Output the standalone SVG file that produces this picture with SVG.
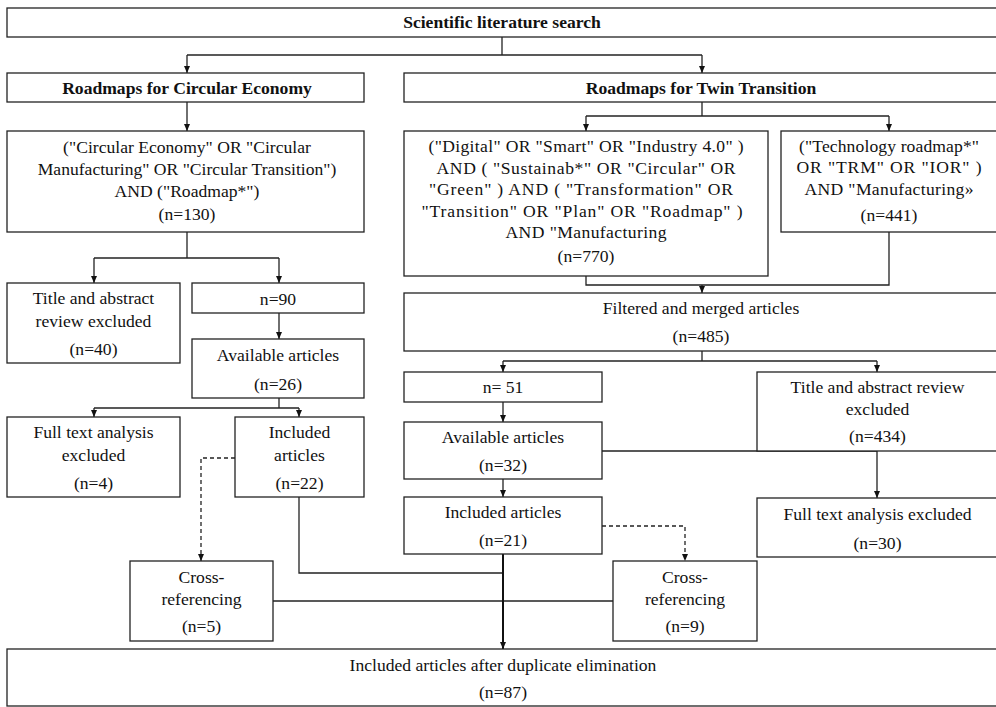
<svg xmlns="http://www.w3.org/2000/svg" width="996" height="707" viewBox="0 0 996 707">
<defs>
<style>
.b{fill:#fff;stroke:#222;stroke-width:1.3}
.t{font-family:"Liberation Serif","Times New Roman",serif;font-size:17.6px;fill:#111;text-anchor:middle}
.bd{font-weight:bold}
.c path{fill:none;stroke:#222;stroke-width:1.3}
.c path.a{marker-end:url(#ah)}
.c path.d{stroke-dasharray:4,3}
.c path.k{stroke-width:2;stroke:#111}
</style>
<marker id="ah" markerUnits="userSpaceOnUse" markerWidth="8" markerHeight="8" refX="7" refY="4" orient="auto">
<path d="M0,1 L7,4 L0,7 z" fill="#111"/>
</marker>
</defs>
<rect width="996" height="707" fill="#fff"/>

<g id="connectors" class="c">
<path d="M502,37 V55"/>
<path d="M187,55 H702"/>
<path class="a" d="M187,55 V73"/>
<path class="a" d="M702,55 V73"/>
<path class="a" d="M187,102 V131"/>
<path d="M702,102 V116"/>
<path d="M586,116 H889"/>
<path class="a" d="M586,116 V131"/>
<path class="a" d="M889,116 V131"/>
<path d="M586,276 V285 H889 V232"/>
<path class="a" d="M702,285 V293"/>
<path d="M187,232 V258"/>
<path d="M94,258 H279"/>
<path class="a" d="M94,258 V283"/>
<path class="a" d="M279,258 V283"/>
<path class="a" d="M279,313 V339"/>
<path d="M279,398 V408"/>
<path d="M94,408 H299"/>
<path class="a" d="M94,408 V417"/>
<path class="a" d="M299,408 V417"/>
<path class="a d" d="M235,458 H201 V561"/>
<path d="M299,497 V573 H503"/>
<path d="M273,601 H503"/>
<path d="M702,351 V361"/>
<path d="M503,361 H877"/>
<path class="a" d="M503,361 V372"/>
<path class="a" d="M877,361 V372"/>
<path class="a" d="M503,402 V422"/>
<path class="a" d="M503,479 V497"/>
<path class="a" d="M602,451 H877 V498"/>
<path class="a d" d="M602,526 H685 V561"/>
<path d="M757,601 H503"/>
<path class="a k" d="M503,554 V649"/>
</g>

<g id="search">
<rect class="b" x="7" y="8" width="991" height="29"/>
<text class="t bd" x="502" y="28">Scientific literature search</text>
</g>

<g id="ce-head">
<rect class="b" x="7" y="73" width="357" height="29"/>
<text class="t bd" x="187" y="94">Roadmaps for Circular Economy</text>
</g>

<g id="tt-head">
<rect class="b" x="404" y="73" width="594" height="29"/>
<text class="t bd" x="701" y="94">Roadmaps for Twin Transition</text>
</g>

<g id="ce-query">
<rect class="b" x="7" y="131" width="357" height="101"/>
<text class="t" x="187" y="153">("Circular Economy" OR "Circular</text>
<text class="t" x="187" y="175">Manufacturing" OR "Circular Transition")</text>
<text class="t" x="187" y="197">AND ("Roadmap*")</text>
<text class="t" x="187" y="220">(n=130)</text>
</g>

<g id="tt-query1">
<rect class="b" x="404" y="131" width="364" height="145"/>
<text class="t" x="586" y="152" textLength="315" lengthAdjust="spacing">("Digital" OR "Smart" OR "Industry 4.0" )</text>
<text class="t" x="586" y="174" textLength="299" lengthAdjust="spacing">AND ( "Sustainab*" OR "Circular" OR</text>
<text class="t" x="581" y="195" textLength="304" lengthAdjust="spacing">"Green" ) AND ( "Transformation" OR</text>
<text class="t" x="582" y="217" textLength="321" lengthAdjust="spacing">"Transition" OR "Plan" OR "Roadmap" )</text>
<text class="t" x="586" y="238" textLength="161" lengthAdjust="spacing">AND "Manufacturing</text>
<text class="t" x="586" y="262">(n=770)</text>
</g>

<g id="tt-query2">
<rect class="b" x="781" y="131" width="217" height="101"/>
<text class="t" x="889" y="152" textLength="180" lengthAdjust="spacing">("Technology roadmap*"</text>
<text class="t" x="889" y="173" textLength="185" lengthAdjust="spacing">OR "TRM" OR "IOR" )</text>
<text class="t" x="889" y="195" textLength="169" lengthAdjust="spacing">AND "Manufacturing»</text>
<text class="t" x="889" y="221">(n=441)</text>
</g>

<g id="ce-excl1">
<rect class="b" x="7" y="283" width="173" height="80"/>
<text class="t" x="93.5" y="304">Title and abstract</text>
<text class="t" x="93.5" y="327">review excluded</text>
<text class="t" x="93.5" y="355">(n=40)</text>
</g>

<g id="ce-n90">
<rect class="b" x="192" y="283" width="172" height="30"/>
<text class="t" x="278" y="305">n=90</text>
</g>

<g id="ce-avail">
<rect class="b" x="192" y="339" width="172" height="59"/>
<text class="t" x="278" y="361">Available articles</text>
<text class="t" x="278" y="390">(n=26)</text>
</g>

<g id="ce-excl2">
<rect class="b" x="7" y="417" width="173" height="80"/>
<text class="t" x="93.5" y="438">Full text analysis</text>
<text class="t" x="93.5" y="461">excluded</text>
<text class="t" x="93.5" y="489">(n=4)</text>
</g>

<g id="ce-incl">
<rect class="b" x="235" y="417" width="129" height="80"/>
<text class="t" x="299.5" y="438">Included</text>
<text class="t" x="299.5" y="461">articles</text>
<text class="t" x="299.5" y="489">(n=22)</text>
</g>

<g id="ce-cross">
<rect class="b" x="130" y="561" width="143" height="80"/>
<text class="t" x="201.5" y="583">Cross-</text>
<text class="t" x="201.5" y="605">referencing</text>
<text class="t" x="201.5" y="632">(n=5)</text>
</g>

<g id="tt-merged">
<rect class="b" x="404" y="293" width="594" height="58"/>
<text class="t" x="701" y="314">Filtered and merged articles</text>
<text class="t" x="701" y="342">(n=485)</text>
</g>

<g id="tt-n51">
<rect class="b" x="404" y="372" width="198" height="30"/>
<text class="t" x="503" y="393">n= 51</text>
</g>

<g id="tt-excl1">
<rect class="b" x="757" y="372" width="241" height="79"/>
<text class="t" x="877.5" y="393">Title and abstract review</text>
<text class="t" x="877.5" y="415">excluded</text>
<text class="t" x="877.5" y="442">(n=434)</text>
</g>

<g id="tt-avail">
<rect class="b" x="404" y="422" width="198" height="57"/>
<text class="t" x="503" y="443">Available articles</text>
<text class="t" x="503" y="471">(n=32)</text>
</g>

<g id="tt-incl">
<rect class="b" x="404" y="497" width="198" height="57"/>
<text class="t" x="503" y="518">Included articles</text>
<text class="t" x="503" y="546">(n=21)</text>
</g>

<g id="tt-excl2">
<rect class="b" x="757" y="498" width="241" height="59"/>
<text class="t" x="877.5" y="520">Full text analysis excluded</text>
<text class="t" x="877.5" y="549">(n=30)</text>
</g>

<g id="tt-cross">
<rect class="b" x="613" y="561" width="144" height="80"/>
<text class="t" x="685" y="583">Cross-</text>
<text class="t" x="685" y="605">referencing</text>
<text class="t" x="685" y="632">(n=9)</text>
</g>

<g id="final">
<rect class="b" x="7" y="649" width="991" height="57"/>
<text class="t" x="503" y="671">Included articles after duplicate elimination</text>
<text class="t" x="503" y="698">(n=87)</text>
</g>
</svg>
